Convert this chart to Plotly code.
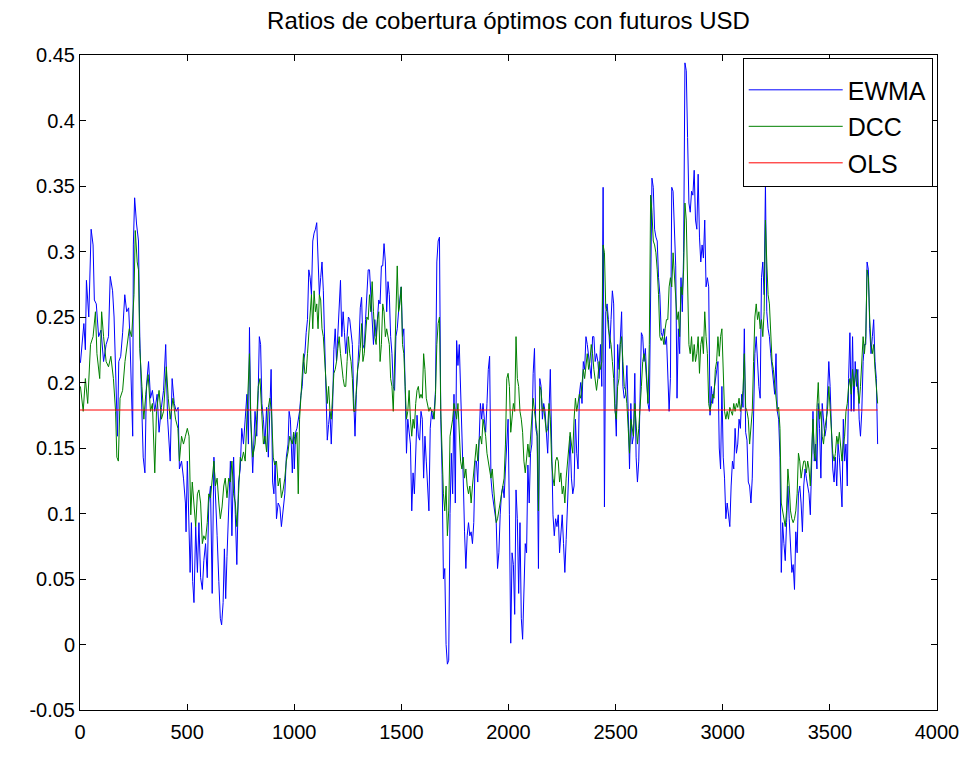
import numpy as np
import plotly.graph_objects as go

TITLE = "Ratios de cobertura óptimos con futuros USD"
SERIES_NAMES = ["EWMA", "DCC", "OLS"]
X_TICKS = [0, 500, 1000, 1500, 2000, 2500, 3000, 3500, 4000]
Y_TICK_VALS = [-0.05, 0, 0.05, 0.1, 0.15, 0.2, 0.25, 0.3, 0.35, 0.4, 0.45]
Y_TICK_TEXT = ["-0.05", "0", "0.05", "0.1", "0.15", "0.2", "0.25", "0.3", "0.35", "0.4", "0.45"]

# ---- EWMA, first part (observation index, ratio) ----
EWMA_X_A = [2, 18, 25, 30, 41, 52, 61, 67, 76, 87, 98, 110, 122, 133, 141, 152, 159, 169, 175, 181,
            190, 199, 209, 218, 227, 233, 241, 246, 249, 255, 264, 273, 279, 287, 295, 303, 310, 320, 329, 338,
            349, 360, 369, 380, 390, 400, 409, 421, 430, 440, 449, 458, 464, 474, 483, 492, 495,
            501, 509, 514, 520, 526, 532, 540, 548, 555, 563, 571, 578, 586, 594, 601, 609, 617, 625, 632, 640,
            648, 655, 661, 668, 674, 680, 686, 694, 702, 709, 717, 725, 732, 740, 748, 755, 763, 771, 779, 786,
            791, 797, 806, 817, 825, 832, 837, 843, 849, 856, 863, 871, 879, 886, 892, 899, 905, 911, 917, 925,
            933, 940, 948, 956, 963, 971, 976, 982, 991, 997]
EWMA_Y_A = [0.215, 0.245, 0.225, 0.278, 0.25, 0.317, 0.305, 0.263, 0.26, 0.235, 0.24, 0.216, 0.229, 0.235,
            0.281, 0.27, 0.25, 0.181, 0.159, 0.216, 0.22, 0.238, 0.267, 0.254, 0.257, 0.235, 0.188, 0.159, 0.305,
            0.341, 0.321, 0.308, 0.235, 0.181, 0.143, 0.131, 0.197, 0.216, 0.188, 0.194, 0.178, 0.191, 0.162,
            0.181, 0.194, 0.229, 0.172, 0.140, 0.203, 0.184, 0.178, 0.181, 0.134, 0.14, 0.127, 0.108, 0.086,
            0.14, 0.093, 0.055, 0.093, 0.048, 0.032, 0.09, 0.055, 0.093, 0.051,
            0.042, 0.064, 0.077, 0.051, 0.108, 0.121, 0.039, 0.143, 0.108, 0.083,
            0.048, 0.02, 0.015, 0.032, 0.073, 0.035, 0.067, 0.108, 0.14, 0.083,
            0.143, 0.099, 0.061, 0.124, 0.134, 0.165, 0.153, 0.172, 0.191, 0.153,
            0.242, 0.172, 0.131, 0.178, 0.159, 0.194, 0.235, 0.229, 0.184, 0.172,
            0.153, 0.181, 0.143, 0.178, 0.21, 0.124, 0.115, 0.14, 0.096, 0.108,
            0.105, 0.09, 0.102, 0.115, 0.143, 0.153, 0.178, 0.172, 0.131, 0.162]

# ---- EWMA, second part, regularly sampled from index 1000 ----
EWMA_Y_B = [
    0.134, 0.162, 0.165, 0.172, 0.178, 0.19, 0.197, 0.216, 0.222, 0.238,
    0.248, 0.286, 0.28, 0.267, 0.308, 0.314, 0.317, 0.322, 0.3, 0.267,
    0.28, 0.292, 0.27, 0.23, 0.185, 0.156, 0.168, 0.178, 0.153, 0.18,
    0.225, 0.241, 0.216, 0.24, 0.267, 0.278, 0.235, 0.254, 0.238, 0.222,
    0.235, 0.25, 0.248, 0.235, 0.229, 0.188, 0.159, 0.191, 0.207, 0.229,
    0.257, 0.265, 0.229, 0.226, 0.248, 0.27, 0.286, 0.286, 0.267, 0.25,
    0.229, 0.248, 0.235, 0.248, 0.263, 0.26, 0.289, 0.289, 0.306, 0.292,
    0.254, 0.277, 0.267, 0.235, 0.222, 0.197, 0.194, 0.235, 0.241, 0.254,
    0.267,
    0.273, 0.235, 0.241, 0.197, 0.146, 0.172, 0.159, 0.153, 0.102, 0.131,
    0.115, 0.156, 0.175, 0.159, 0.156, 0.178, 0.172, 0.127, 0.159, 0.14,
    0.121, 0.102, 0.165, 0.178, 0.172, 0.178, 0.194, 0.292, 0.308, 0.311,
    0.172, 0.13, 0.05, 0.058, 0.0, -0.015, -0.012, 0.10, 0.146, 0.115,
    0.191, 0.108, 0.232, 0.213, 0.229, 0.2, 0.156, 0.127, 0.086, 0.058,
    0.083, 0.093, 0.083, 0.086, 0.077, 0.093, 0.14, 0.14, 0.124, 0.159,
    0.184, 0.172, 0.184, 0.172, 0.162, 0.184, 0.21, 0.22, 0.127, 0.115,
    0.108, 0.102, 0.093, 0.058, 0.07, 0.099, 0.115, 0.121, 0.112, 0.134,
    0.159,
    0.172, 0.099, 0.001, 0.07, 0.061, 0.023, 0.118, 0.096, 0.039, 0.093,
    0.02, 0.004, 0.048, 0.077, 0.07, 0.137, 0.108, 0.146, 0.153, 0.207,
    0.226, 0.165, 0.159, 0.058, 0.203, 0.197, 0.172, 0.184, 0.178, 0.156,
    0.146, 0.178, 0.21, 0.153, 0.099, 0.083, 0.096, 0.09, 0.099, 0.07,
    0.086, 0.099, 0.077, 0.055, 0.08, 0.108, 0.134, 0.159, 0.127, 0.115,
    0.121, 0.172, 0.146, 0.134, 0.191, 0.2, 0.184, 0.216, 0.21, 0.235,
    0.229, 0.22, 0.21, 0.203, 0.235, 0.235, 0.216, 0.222, 0.216, 0.203,
    0.229, 0.197, 0.349, 0.105, 0.254, 0.26, 0.248, 0.226, 0.248, 0.27,
    0.26,
    0.184, 0.159, 0.229, 0.21, 0.235, 0.254, 0.197, 0.188, 0.191, 0.213,
    0.178, 0.134, 0.184, 0.153, 0.159, 0.207, 0.143, 0.124, 0.14, 0.181,
    0.238, 0.235, 0.216, 0.226, 0.197, 0.184, 0.178, 0.267, 0.356, 0.349,
    0.317, 0.311, 0.308, 0.28, 0.267, 0.238, 0.235, 0.241, 0.229, 0.235,
    0.21, 0.178, 0.203, 0.349, 0.346, 0.317, 0.289, 0.188, 0.241, 0.222,
    0.28, 0.254, 0.299, 0.444, 0.438, 0.387, 0.337, 0.33, 0.346, 0.343,
    0.362, 0.324, 0.317, 0.359, 0.311, 0.292, 0.305, 0.295, 0.324, 0.273,
    0.28, 0.273, 0.175, 0.197, 0.184, 0.194, 0.203, 0.21, 0.216, 0.15,
    0.134,
    0.197, 0.143, 0.127, 0.096, 0.108, 0.099, 0.09, 0.121, 0.14, 0.134,
    0.165, 0.146, 0.153, 0.172, 0.165, 0.191, 0.181, 0.241, 0.162, 0.156,
    0.124, 0.121, 0.108, 0.127, 0.178, 0.222, 0.235, 0.21, 0.197, 0.188,
    0.28, 0.292, 0.267, 0.352, 0.254, 0.241, 0.235, 0.222, 0.21, 0.203,
    0.191, 0.222, 0.178, 0.172, 0.143, 0.055, 0.093, 0.077, 0.064, 0.093,
    0.121, 0.096, 0.077, 0.055, 0.061, 0.042, 0.086, 0.07, 0.115, 0.121,
    0.108, 0.086, 0.121, 0.134, 0.127, 0.121, 0.115, 0.099, 0.14, 0.178,
    0.14, 0.153, 0.134, 0.184, 0.165, 0.127, 0.184, 0.172, 0.159, 0.165,
    0.188,
    0.216, 0.197, 0.162, 0.134, 0.124, 0.143, 0.121, 0.153, 0.143, 0.121,
    0.105, 0.172, 0.14, 0.153, 0.121, 0.203, 0.238, 0.178, 0.235, 0.178,
    0.216, 0.197, 0.21, 0.172, 0.159, 0.178, 0.216, 0.229, 0.229, 0.292,
    0.286, 0.241, 0.222, 0.235, 0.248, 0.216, 0.203, 0.153]

# ---- DCC, first part ----
DCC_X_A = [2, 15, 25, 36, 49, 61, 72, 79, 92, 101, 110, 122, 133, 144, 156, 166, 172, 179, 187, 199,
           210, 221, 230, 241, 252, 258, 267, 273, 279, 289, 298, 307, 318, 329, 338, 349, 357, 369, 380, 390,
           403, 412, 421, 434, 446, 457, 464, 474, 483, 492,
           501, 509, 517, 524, 532, 540, 548, 555, 563, 571, 578, 586, 594, 601, 609, 617, 625, 632, 640, 648,
           655, 663, 671, 678, 686, 694, 702, 709, 717, 725, 732, 740, 748, 755, 763, 771, 779, 786,
           791, 797, 806, 817, 825,
           832, 840, 848, 856, 863, 871, 879, 886, 894, 902, 909, 917, 925, 933, 940, 948, 956, 963,
           971, 979, 991, 997]
DCC_Y_A = [0.197, 0.178, 0.203, 0.184, 0.229, 0.235, 0.254, 0.222, 0.203, 0.254, 0.235, 0.216, 0.212, 0.22,
           0.203, 0.178, 0.143, 0.14, 0.188, 0.194, 0.216, 0.229, 0.241, 0.235, 0.267, 0.316, 0.292, 0.286,
           0.226, 0.197, 0.172, 0.191, 0.206, 0.178, 0.184, 0.131, 0.178, 0.194, 0.172, 0.178, 0.212, 0.188,
           0.172, 0.188, 0.172, 0.165, 0.14, 0.159, 0.153, 0.159,
           0.165, 0.159, 0.099, 0.124, 0.105, 0.09, 0.115, 0.118, 0.108, 0.077,
           0.083, 0.08, 0.093, 0.115, 0.112, 0.127, 0.14, 0.121, 0.127, 0.108,
           0.096, 0.105, 0.121, 0.127, 0.112, 0.127, 0.124, 0.14, 0.115, 0.108,
           0.09, 0.115, 0.143, 0.14, 0.147, 0.14, 0.178, 0.197,
           0.222, 0.172, 0.143, 0.153, 0.172,
           0.197, 0.203, 0.178, 0.153, 0.159, 0.147, 0.181, 0.188, 0.178, 0.143, 0.137, 0.14, 0.121, 0.127,
           0.112, 0.118, 0.127, 0.14,
           0.147, 0.159, 0.153, 0.162]

# ---- DCC, second part, regularly sampled from index 1000 ----
DCC_Y_B = [
    0.159, 0.153, 0.162, 0.115, 0.172, 0.188, 0.203, 0.222, 0.207, 0.207,
    0.222, 0.238, 0.26, 0.267, 0.241, 0.27, 0.254, 0.26, 0.241, 0.267,
    0.263, 0.241, 0.235, 0.216, 0.203, 0.184, 0.197, 0.178, 0.172, 0.191,
    0.207, 0.21, 0.216, 0.226, 0.235, 0.222, 0.21, 0.203, 0.197, 0.197,
    0.216, 0.235, 0.222, 0.216, 0.203, 0.178, 0.178, 0.194, 0.21, 0.216,
    0.226, 0.245, 0.216, 0.222, 0.235, 0.25, 0.248, 0.267, 0.254, 0.277,
    0.254, 0.235, 0.229, 0.248, 0.254, 0.216, 0.229, 0.26, 0.254, 0.235,
    0.241, 0.235, 0.229, 0.203, 0.197, 0.178, 0.216, 0.235, 0.289, 0.254,
    0.26,
    0.273, 0.229, 0.222, 0.197, 0.172, 0.178, 0.194, 0.172, 0.159, 0.172,
    0.165, 0.184, 0.194, 0.197, 0.188, 0.191, 0.188, 0.222, 0.21, 0.188,
    0.184, 0.178, 0.181, 0.178, 0.178, 0.172, 0.191, 0.229, 0.245, 0.25,
    0.178, 0.134, 0.115, 0.102, 0.121, 0.083, 0.102, 0.159, 0.165, 0.172,
    0.184, 0.178, 0.172, 0.184, 0.159, 0.14, 0.134, 0.143, 0.127, 0.134,
    0.121, 0.115, 0.121, 0.108, 0.121, 0.134, 0.14, 0.153, 0.14, 0.156,
    0.159, 0.153, 0.172, 0.165, 0.159, 0.146, 0.14, 0.131, 0.127, 0.134,
    0.121, 0.108, 0.093, 0.096, 0.102, 0.108, 0.115, 0.121, 0.127, 0.153,
    0.203,
    0.207, 0.197, 0.162, 0.172, 0.184, 0.178, 0.235, 0.203, 0.197, 0.178,
    0.172, 0.162, 0.14, 0.131, 0.14, 0.153, 0.143, 0.156, 0.172, 0.188,
    0.178, 0.169, 0.162, 0.102, 0.197, 0.194, 0.178, 0.181, 0.172, 0.162,
    0.165, 0.184, 0.172, 0.14, 0.127, 0.121, 0.14, 0.143, 0.14, 0.124,
    0.131, 0.115, 0.121, 0.108, 0.127, 0.14, 0.153, 0.162, 0.153, 0.146,
    0.172, 0.188, 0.178, 0.184, 0.191, 0.188, 0.203, 0.21, 0.203, 0.216,
    0.222, 0.21, 0.216, 0.229, 0.222, 0.21, 0.203, 0.194, 0.203, 0.216,
    0.21, 0.216, 0.305, 0.299, 0.257, 0.254, 0.241, 0.235, 0.229, 0.216,
    0.203,
    0.178, 0.172, 0.197, 0.203, 0.229, 0.235, 0.216, 0.197, 0.194, 0.184,
    0.165, 0.146, 0.172, 0.165, 0.159, 0.184, 0.165, 0.153, 0.165, 0.178,
    0.197, 0.216, 0.222, 0.216, 0.203, 0.184, 0.229, 0.343, 0.33, 0.308,
    0.305, 0.299, 0.286, 0.267, 0.235, 0.232, 0.235, 0.229, 0.241, 0.248,
    0.248, 0.273, 0.28, 0.273, 0.299, 0.28, 0.267, 0.248, 0.254, 0.235,
    0.273, 0.267, 0.286, 0.337, 0.324, 0.267, 0.229, 0.222, 0.235, 0.216,
    0.229, 0.216, 0.222, 0.235, 0.207, 0.229, 0.235, 0.222, 0.254, 0.235,
    0.222, 0.184, 0.178, 0.184, 0.191, 0.188, 0.21, 0.216, 0.235, 0.22,
    0.235,
    0.241, 0.197, 0.178, 0.172, 0.178, 0.172, 0.181, 0.178, 0.175, 0.184,
    0.178, 0.184, 0.181, 0.188, 0.178, 0.184, 0.194, 0.222, 0.181, 0.178,
    0.172, 0.153, 0.165, 0.178, 0.216, 0.25, 0.26, 0.248, 0.254, 0.241,
    0.248, 0.235, 0.254, 0.324, 0.292, 0.267, 0.26, 0.235, 0.216, 0.21,
    0.197, 0.184, 0.178, 0.181, 0.165, 0.108, 0.102, 0.099, 0.09, 0.102,
    0.134, 0.121, 0.102, 0.096, 0.093, 0.096, 0.102, 0.115, 0.146, 0.14,
    0.127, 0.134, 0.14, 0.14, 0.131, 0.14, 0.134, 0.121, 0.153, 0.172,
    0.146, 0.14, 0.181, 0.2, 0.172, 0.178, 0.159, 0.153, 0.165, 0.172,
    0.178,
    0.197, 0.178, 0.159, 0.146, 0.14, 0.146, 0.159, 0.153, 0.162, 0.15,
    0.14, 0.153, 0.159, 0.178, 0.184, 0.197, 0.203, 0.191, 0.21, 0.197,
    0.203, 0.21, 0.194, 0.184, 0.197, 0.216, 0.235, 0.222, 0.235, 0.286,
    0.28, 0.248, 0.229, 0.222, 0.229, 0.21, 0.197, 0.184]

OLS_RATIO = 0.179
SAMPLE_START = 1000.2   # first observation index of the regularly sampled part
SAMPLE_STEP = 6.16      # observations between consecutive readings

ewma_x = list(EWMA_X_A) + list(SAMPLE_START + SAMPLE_STEP * np.arange(len(EWMA_Y_B)))
ewma_y = EWMA_Y_A + EWMA_Y_B
dcc_x = list(DCC_X_A) + list(SAMPLE_START + SAMPLE_STEP * np.arange(len(DCC_Y_B)))
dcc_y = DCC_Y_A + DCC_Y_B
x_end = max(ewma_x[-1], dcc_x[-1])

FONT = "Liberation Sans, Arial, sans-serif"

fig = go.Figure()
fig.add_trace(go.Scatter(x=ewma_x, y=ewma_y, mode="lines", name=SERIES_NAMES[0],
                         line=dict(color="#0000ff", width=1), legendgroup="a"))
fig.add_trace(go.Scatter(x=dcc_x, y=dcc_y, mode="lines", name=SERIES_NAMES[1],
                         line=dict(color="#008000", width=1), legendgroup="b"))
fig.add_trace(go.Scatter(x=[0, x_end], y=[OLS_RATIO, OLS_RATIO], mode="lines", name=SERIES_NAMES[2],
                         line=dict(color="#ff0000", width=1), legendgroup="c"))

fig.update_layout(
    width=978, height=772,
    margin=dict(l=72, r=49, t=47, b=70),
    paper_bgcolor="white", plot_bgcolor="white",
    font=dict(family=FONT, color="black", size=20),
    title=dict(text=TITLE, x=0.5, xref="paper", xanchor="center",
               y=1 - 13 / 772, yref="container", yanchor="middle",
               font=dict(family=FONT, size=24, color="black")),
    showlegend=True,
    legend=dict(x=0.995, xanchor="right", y=0.995, yanchor="top",
                bordercolor="black", borderwidth=1, bgcolor="white",
                font=dict(family=FONT, size=25, color="black"),
                title=dict(text=" ", font=dict(size=6)),
                tracegroupgap=1, itemwidth=94),
)
fig.update_xaxes(range=[0, 4000], tickvals=X_TICKS, ticktext=[str(v) for v in X_TICKS],
                 ticks="inside", ticklen=6, tickcolor="black", showline=True, linecolor="black",
                 linewidth=1, mirror="ticks", showgrid=False, zeroline=False, ticklabelstandoff=4,
                 tickfont=dict(family=FONT, size=20, color="black"))
fig.update_yaxes(range=[-0.05, 0.45], tickvals=Y_TICK_VALS, ticktext=Y_TICK_TEXT,
                 ticks="inside", ticklen=6, tickcolor="black", showline=True, linecolor="black",
                 linewidth=1, mirror="ticks", showgrid=False, zeroline=False,
                 tickfont=dict(family=FONT, size=20, color="black"))

fig.write_html("out.html")
